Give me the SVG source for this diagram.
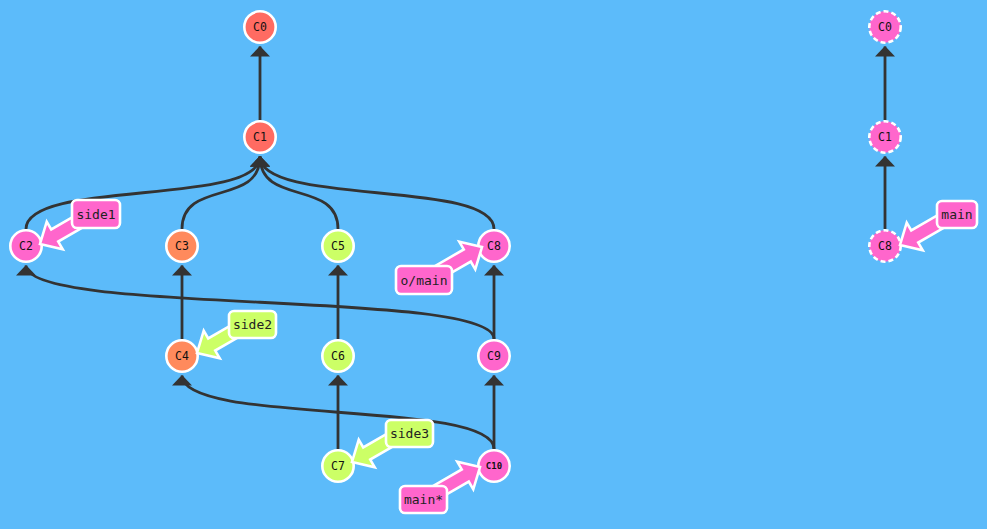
<svg xmlns="http://www.w3.org/2000/svg" width="987" height="529" viewBox="0 0 987 529">
<defs>
<style>
.edge{fill:none;stroke:#333;stroke-width:2.8;marker-end:url(#ah)}
.node{stroke:#fff;stroke-width:2.6}
.dash{stroke-dasharray:5 3}
.red{fill:#ff6b62}
.org{fill:#ff8a5c}
.grn{fill:#ccff66}
.pnk{fill:#ff66cc}
.nt{font-family:"DejaVu Sans Mono","Liberation Mono",monospace;font-size:11.5px;fill:#111;text-anchor:middle;dominant-baseline:central}
.lt{font-family:"DejaVu Sans Mono","Liberation Mono",monospace;font-size:13px;fill:#222;text-anchor:middle;dominant-baseline:central}
.lab{stroke:#fff;stroke-width:2.6;stroke-linejoin:miter}
</style>
<marker id="ah" markerUnits="userSpaceOnUse" markerWidth="24" markerHeight="24" viewBox="-12 -12 24 24" refX="0" refY="0" orient="auto">
<path d="M0.5,0 L-10,-10 L-10,10 Z" fill="#333"/>
</marker>
<path id="arr" d="M0,0 L-17,-16 L-17,-7 L-56,-7 L-56,7 L-17,7 L-17,16 Z"/>
</defs>
<rect width="987" height="529" fill="#5cbbfa"/>
<g id="connectors">
<path class="edge" d="M260,120 L260,46.5"/>
<path class="edge" d="M26,229 C26,179 260,206.5 260,156.5"/>
<path class="edge" d="M182,229 C182,179 260,206.5 260,156.5"/>
<path class="edge" d="M338,229 C338,179 260,206.5 260,156.5"/>
<path class="edge" d="M494,229 C494,179 260,206.5 260,156.5"/>
<path class="edge" d="M182,339 L182,265.5"/>
<path class="edge" d="M338,339 L338,265.5"/>
<path class="edge" d="M494,339 L494,265.5"/>
<path class="edge" d="M338,449 L338,375.5"/>
<path class="edge" d="M494,449 L494,375.5"/>
<path class="edge" d="M494,339 C494,289 26,315.5 26,265.5"/>
<path class="edge" d="M494,449 C494,399 182,425.5 182,375.5"/>
<path class="edge" d="M885,120 L885,46.5"/>
<path class="edge" d="M885,229 L885,156.5"/>
</g>
<g id="C0"><circle class="node red" cx="260" cy="27" r="15.7"/><text class="nt" x="260" y="27">C0</text></g>
<g id="C1"><circle class="node red" cx="260" cy="137" r="15.7"/><text class="nt" x="260" y="137">C1</text></g>
<g id="C2"><circle class="node pnk" cx="26" cy="246" r="15.7"/><text class="nt" x="26" y="246">C2</text></g>
<g id="C3"><circle class="node org" cx="182" cy="246" r="15.7"/><text class="nt" x="182" y="246">C3</text></g>
<g id="C5"><circle class="node grn" cx="338" cy="246" r="15.7"/><text class="nt" x="338" y="246">C5</text></g>
<g id="C8"><circle class="node pnk" cx="494" cy="246" r="15.7"/><text class="nt" x="494" y="246">C8</text></g>
<g id="C4"><circle class="node org" cx="182" cy="356" r="15.7"/><text class="nt" x="182" y="356">C4</text></g>
<g id="C6"><circle class="node grn" cx="338" cy="356" r="15.7"/><text class="nt" x="338" y="356">C6</text></g>
<g id="C9"><circle class="node pnk" cx="494" cy="356" r="15.7"/><text class="nt" x="494" y="356">C9</text></g>
<g id="C7"><circle class="node grn" cx="338" cy="466" r="15.7"/><text class="nt" x="338" y="466">C7</text></g>
<g id="C10"><circle class="node pnk" cx="494" cy="466" r="15.7"/><text class="nt" x="494" y="466" style="font-size:9px;font-weight:bold">C10</text></g>
<g id="C0-r"><circle class="node pnk dash" cx="885" cy="27" r="15.7"/><text class="nt" x="885" y="27">C0</text></g>
<g id="C1-r"><circle class="node pnk dash" cx="885" cy="137" r="15.7"/><text class="nt" x="885" y="137">C1</text></g>
<g id="C8-r"><circle class="node pnk dash" cx="885" cy="246" r="15.7"/><text class="nt" x="885" y="246">C8</text></g>
<g id="side1"><use href="#arr" class="lab pnk" transform="translate(40,244) rotate(150)"/><rect class="lab pnk" x="72" y="200" width="48" height="28" rx="5"/><text class="lt" x="96" y="214">side1</text></g>
<g id="side2"><use href="#arr" class="lab grn" transform="translate(197,353) rotate(150)"/><rect class="lab grn" x="229" y="311" width="47" height="27" rx="5"/><text class="lt" x="252.5" y="324.5">side2</text></g>
<g id="side3"><use href="#arr" class="lab grn" transform="translate(352,462) rotate(150)"/><rect class="lab grn" x="386" y="420" width="47" height="27" rx="5"/><text class="lt" x="409.5" y="433.5">side3</text></g>
<g id="o-main"><use href="#arr" class="lab pnk" transform="translate(482,247) rotate(-30)"/><rect class="lab pnk" x="396" y="266" width="56" height="28" rx="5"/><text class="lt" x="424" y="280">o/main</text></g>
<g id="main-star"><use href="#arr" class="lab pnk" transform="translate(480,467) rotate(-30)"/><rect class="lab pnk" x="400" y="486" width="47" height="27" rx="5"/><text class="lt" x="423.5" y="499.5">main*</text></g>
<g id="main-r"><use href="#arr" class="lab pnk" transform="translate(900,245) rotate(150)"/><rect class="lab pnk" x="937" y="201" width="40" height="27" rx="5"/><text class="lt" x="957" y="214.5">main</text></g>
</svg>
